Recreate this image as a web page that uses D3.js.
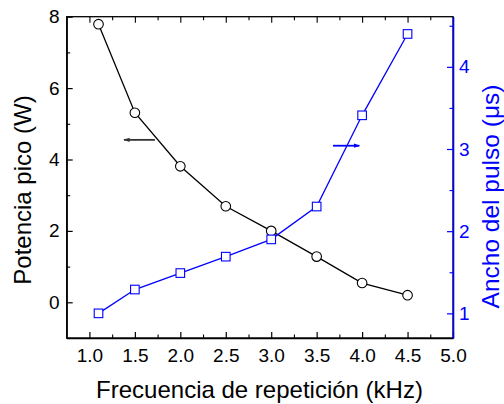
<!DOCTYPE html>
<html><head><meta charset="utf-8">
<script src="https://cdn.jsdelivr.net/npm/d3@7"></script>
<style>body{margin:0;background:#fff}svg{display:block}text{font-family:"Liberation Sans",Arial,sans-serif}</style>
</head><body>
<svg id="c" width="504" height="404"></svg>
<script>
const freq = [1.1, 1.5, 2.0, 2.5, 3.0, 3.5, 4.0, 4.5];
const potencia = [7.79, 5.31, 3.81, 2.69, 2.0, 1.28, 0.54, 0.2];
const ancho = [1.0, 1.29, 1.49, 1.69, 1.9, 2.3, 3.41, 4.4];
const xTicks = [1.0, 1.5, 2.0, 2.5, 3.0, 3.5, 4.0, 4.5, 5.0];
const yLeftTicks = [0, 2, 4, 6, 8];
const yRightTicks = [1, 2, 3, 4];

const svg = d3.select("#c");
const L = 66.7, R = 453, T = 16.7, B = 338;
const x = d3.scaleLinear().domain([0.75, 5.0]).range([L, R]);
const yl = d3.scaleLinear().domain([-1, 8]).range([B, T]);
const yr = d3.scaleLinear().domain([0.7, 4.61]).range([B, T]);
const blue = "#0000ff";

svg.append("rect").attr("x", L).attr("y", T).attr("width", R - L).attr("height", B - T)
  .attr("fill", "none").attr("stroke", "#000").attr("stroke-width", 1.3);

function styleAxis(g, color) {
  g.select(".domain").attr("stroke", color).attr("stroke-width", 1.3);
  g.selectAll(".tick line").attr("stroke", color).attr("stroke-width", 1.2);
  g.selectAll(".tick text").attr("fill", color).style("font-size", "19px").style("font-family", "Liberation Sans, Arial, sans-serif");
}
function minor(g, color) { g.select(".domain").remove(); g.selectAll("line").attr("stroke", color).attr("stroke-width", 1.1); }

const xMinor = d3.range(1.0, 5.01, 0.25).filter(v => Math.abs(v * 2 - Math.round(v * 2)) > 0.01);
const gb = svg.append("g").attr("transform", `translate(0,${B})`)
  .call(d3.axisBottom(x).tickValues(xTicks).tickFormat(d3.format(".1f")).tickSizeInner(-6).tickSizeOuter(0).tickPadding(11));
styleAxis(gb, "#000");
svg.append("g").attr("transform", `translate(0,${B})`)
  .call(d3.axisBottom(x).tickValues(xMinor).tickFormat("").tickSizeInner(-3.5).tickSizeOuter(0)).call(g => minor(g, "#000"));
svg.append("g").attr("transform", `translate(0,${T})`)
  .call(d3.axisTop(x).tickValues(xTicks).tickFormat("").tickSizeInner(-6).tickSizeOuter(0)).call(g => minor(g, "#000"));
svg.append("g").attr("transform", `translate(0,${T})`)
  .call(d3.axisTop(x).tickValues(xMinor).tickFormat("").tickSizeInner(-3.5).tickSizeOuter(0)).call(g => minor(g, "#000"));

const gl = svg.append("g").attr("transform", `translate(${L},0)`)
  .call(d3.axisLeft(yl).tickValues(yLeftTicks).tickSizeInner(-6).tickSizeOuter(0).tickPadding(7));
styleAxis(gl, "#000");
svg.append("g").attr("transform", `translate(${L},0)`)
  .call(d3.axisLeft(yl).tickValues([-1, 1, 3, 5, 7]).tickFormat("").tickSizeInner(-3.5).tickSizeOuter(0)).call(g => minor(g, "#000"));

const gr = svg.append("g").attr("transform", `translate(${R},0)`)
  .call(d3.axisRight(yr).tickValues(yRightTicks).tickFormat(d3.format("d")).tickSizeInner(-6).tickSizeOuter(0).tickPadding(6));
styleAxis(gr, blue);
gr.select(".domain").attr("stroke-width", 1.6);
svg.append("g").attr("transform", `translate(${R},0)`)
  .call(d3.axisRight(yr).tickValues([1.5, 2.5, 3.5, 4.5]).tickFormat("").tickSizeInner(-3.5).tickSizeOuter(0)).call(g => minor(g, blue));

const dataP = freq.map((f, i) => [f, potencia[i]]);
const dataA = freq.map((f, i) => [f, ancho[i]]);
svg.append("path").datum(dataP).attr("fill", "none").attr("stroke", "#000").attr("stroke-width", 1.3)
  .attr("d", d3.line().x(d => x(d[0])).y(d => yl(d[1])));
svg.append("path").datum(dataA).attr("fill", "none").attr("stroke", blue).attr("stroke-width", 1.3)
  .attr("d", d3.line().x(d => x(d[0])).y(d => yr(d[1])));

svg.selectAll("circle.p").data(dataP).enter().append("circle")
  .attr("cx", d => x(d[0])).attr("cy", d => yl(d[1])).attr("r", 4.8)
  .attr("fill", "#fff").attr("stroke", "#000").attr("stroke-width", 1.1);
svg.selectAll("rect.a").data(dataA).enter().append("rect")
  .attr("x", d => x(d[0]) - 4.3).attr("y", d => yr(d[1]) - 4.3).attr("width", 8.6).attr("height", 8.6)
  .attr("fill", "#fff").attr("stroke", blue).attr("stroke-width", 1.1);

const defs = svg.append("defs");
function marker(id, color) {
  defs.append("marker").attr("id", id).attr("viewBox", "0 0 10 10").attr("refX", 9).attr("refY", 5)
    .attr("markerWidth", 3.5).attr("markerHeight", 3.5).attr("orient", "auto")
    .append("path").attr("d", "M0,1.5 L10,5 L0,8.5 Z").attr("fill", color);
}
marker("ab", "#333");
marker("aw", blue);
svg.append("line").attr("x1", x(1.72)).attr("x2", x(1.38)).attr("y1", yl(4.55)).attr("y2", yl(4.55))
  .attr("stroke", "#333").attr("stroke-width", 1.8).attr("marker-end", "url(#ab)");
svg.append("line").attr("x1", x(3.68)).attr("x2", x(3.97)).attr("y1", yr(3.04)).attr("y2", yr(3.04))
  .attr("stroke", blue).attr("stroke-width", 1.8).attr("marker-end", "url(#aw)");

svg.append("text").attr("x", 259.5).attr("y", 398).attr("text-anchor", "middle")
  .style("font-size", "24px").text("Frecuencia de repetición (kHz)");
svg.append("text").attr("transform", `translate(31,190) rotate(-90)`).attr("text-anchor", "middle")
  .style("font-size", "24px").text("Potencia pico (W)");
svg.append("text").attr("transform", `translate(498.5,196.5) rotate(-90)`).attr("text-anchor", "middle")
  .attr("fill", blue).style("font-size", "24.5px").text("Ancho del pulso (μs)");
</script>
</body></html>
